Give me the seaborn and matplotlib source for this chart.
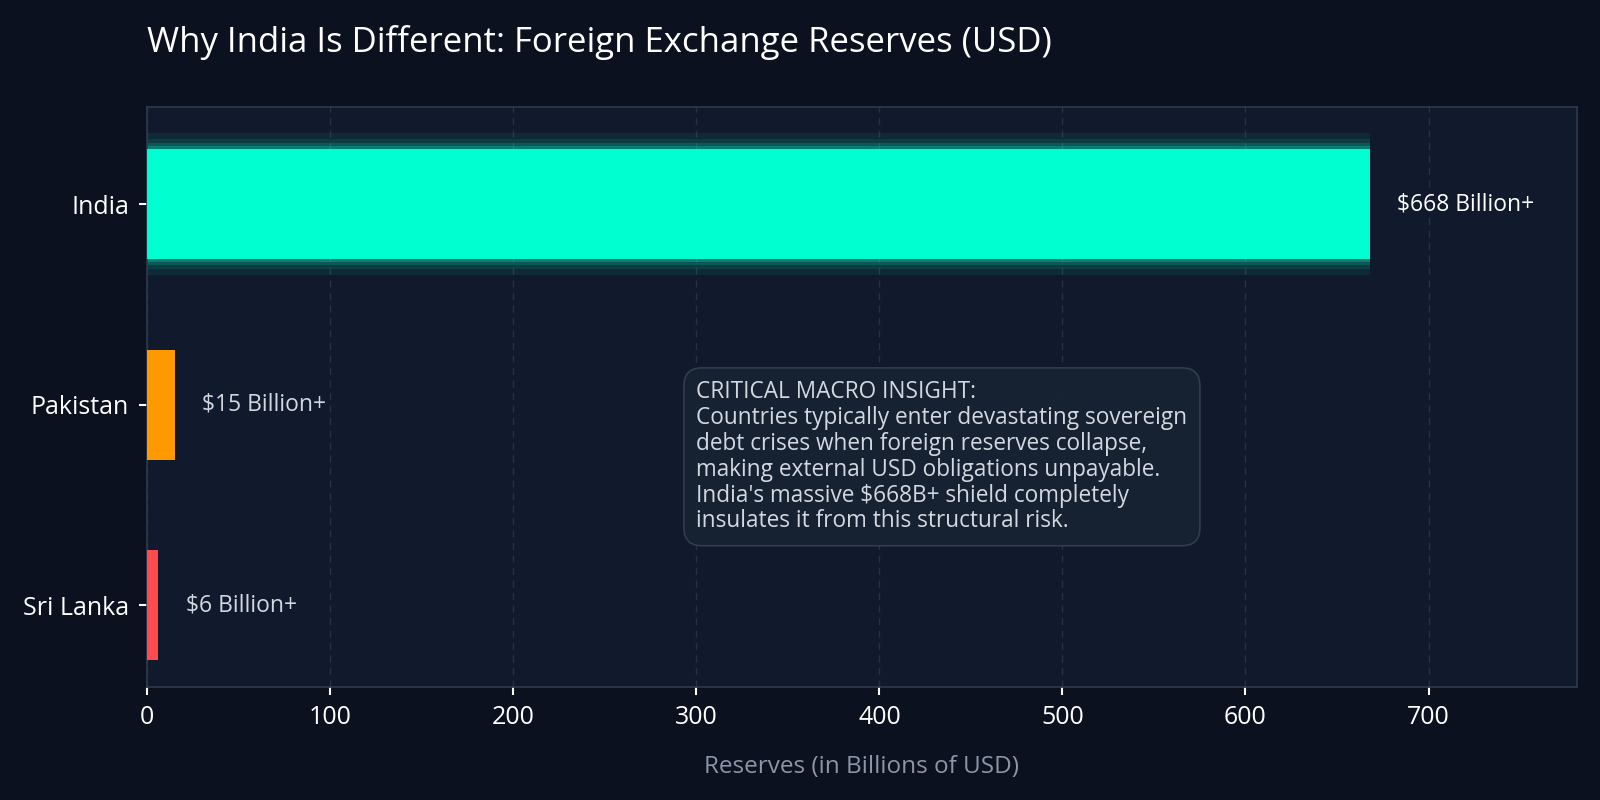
import matplotlib
matplotlib.use("Agg")
import matplotlib.pyplot as plt
import seaborn as sns
import pandas as pd

# data
countries = ["India", "Pakistan", "Sri Lanka"]
reserves = [668, 15, 6]
value_labels = ["$668 Billion+", "$15 Billion+", "$6 Billion+"]
bar_colors = ["#00FFD0", "#FF9900", "#FF4B4B"]
label_colors = ["#FFFFFF", "#D3D8E0", "#D3D8E0"]
x_ticks = [0, 100, 200, 300, 400, 500, 600, 700]

title = "Why India Is Different: Foreign Exchange Reserves (USD)"
x_label = "Reserves (in Billions of USD)"
insight = ("CRITICAL MACRO INSIGHT:\n"
           "Countries typically enter devastating sovereign\n"
           "debt crises when foreign reserves collapse,\n"
           "making external USD obligations unpayable.\n"
           "India's massive $668B+ shield completely\n"
           "insulates it from this structural risk.")

df = pd.DataFrame({"Country": countries, "Reserves": reserves})

fig_bg = "#0B111E"
ax_bg = "#101A2C"
spine_c = "#2C3B4C"
grid_c = "#263244"

sns.set_theme(style="dark")
plt.rcParams["font.family"] = ["Open Sans", "DejaVu Sans"]

fig, ax = plt.subplots(figsize=(16, 8), dpi=100)
fig.patch.set_facecolor(fig_bg)
ax.set_facecolor(ax_bg)
fig.subplots_adjust(left=0.092, right=0.9855, top=0.866, bottom=0.141)

# glow behind the leading bar
bar_h = 0.55
for extra, a in [(0.08, 0.07), (0.05, 0.09), (0.03, 0.14), (0.015, 0.22)]:
    ax.barh(0, reserves[0], height=bar_h + 2 * extra, color=bar_colors[0],
            alpha=a, linewidth=0, zorder=1)

sns.barplot(data=df, x="Reserves", y="Country", hue="Country",
            palette=bar_colors, orient="h", width=bar_h, legend=False,
            saturation=1, linewidth=0, zorder=3, ax=ax)

for i, (v, lab) in enumerate(zip(reserves, value_labels)):
    ax.text(v + 15, i, lab, va="center", ha="left", fontsize=16.5,
            color=label_colors[i], zorder=5)

ax.text(300, 1.26, insight, va="center", ha="left", fontsize=16.3,
        color="#D3D8E0", linespacing=1.1, zorder=6,
        bbox=dict(boxstyle="round,pad=0.55,rounding_size=0.8",
                  facecolor="#172233", edgecolor="#34414F", linewidth=1.2, alpha=0.9))

ax.set_xlim(0, 781)
ax.set_ylim(2.41, -0.485)
ax.set_xticks(x_ticks)
ax.xaxis.grid(True, linestyle=(0, (5, 4)), color=grid_c, linewidth=1, zorder=0)
ax.yaxis.grid(False)
ax.set_axisbelow(True)

for s in ax.spines.values():
    s.set_visible(True)
    s.set_color(spine_c)
    s.set_linewidth(1.2)

ax.tick_params(axis="both", colors="white", labelsize=18, length=6, width=1.5,
               left=True, bottom=True, pad=7)
ax.set_ylabel("")
ax.set_xlabel(x_label, color="#8C96A8", fontsize=17.5, labelpad=18)

fig.text(0.092, 0.935, title, color="white", fontsize=25, ha="left", va="baseline")

plt.savefig("out.png", dpi=100, facecolor=fig_bg)
